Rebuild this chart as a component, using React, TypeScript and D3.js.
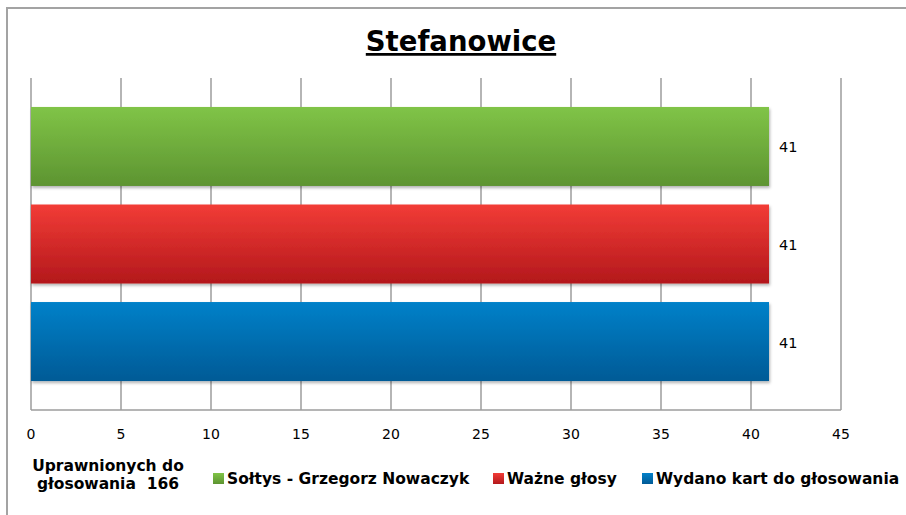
import * as React from "react";
import * as d3 from "d3";

const title = "Stefanowice";
const series = ["Wydano kart do głosowania", "Ważne głosy", "Sołtys - Grzegorz Nowaczyk"];
const values = [41, 41, 41];
const colorsTop = ["#0381c9", "#f23c36", "#80c447"];
const colorsBottom = ["#015a96", "#b3181c", "#5d9431"];
const legendOrder = [2, 1, 0];
const xTicks = [0, 5, 10, 15, 20, 25, 30, 35, 40, 45];
const noteLines = ["Uprawnionych do", "głosowania  166"];

const W = 906;
const H = 515;
const FONT = "DejaVu Sans, Verdana, sans-serif";

const App = () => {
  const ref = React.useRef<SVGSVGElement>(null);

  React.useEffect(() => {
    document.body.style.margin = "0";
    const svg = d3.select(ref.current);
    svg.selectAll("*").remove();

    const x = d3.scaleLinear().domain([0, 45]).range([31, 841]);
    // one category, three series stacked top to bottom (last series on top)
    const y = d3
      .scaleBand<number>()
      .domain([2, 1, 0])
      .range([78, 410])
      .paddingInner(0.19)
      .paddingOuter(0.297);

    const defs = svg.append("defs");
    series.forEach((_, i) => {
      const g = defs
        .append("linearGradient")
        .attr("id", "grad" + i)
        .attr("x1", 0)
        .attr("y1", 0)
        .attr("x2", 0)
        .attr("y2", 1);
      g.append("stop").attr("offset", "0%").attr("stop-color", colorsTop[i]);
      g.append("stop").attr("offset", "100%").attr("stop-color", colorsBottom[i]);
    });
    defs
      .append("filter")
      .attr("id", "shadow")
      .attr("x", "-5%")
      .attr("y", "-10%")
      .attr("width", "110%")
      .attr("height", "130%")
      .append("feDropShadow")
      .attr("dx", 1)
      .attr("dy", 2)
      .attr("stdDeviation", 1.5)
      .attr("flood-color", "#000")
      .attr("flood-opacity", 0.3);

    svg.append("rect").attr("width", W).attr("height", H).attr("fill", "#fff");

    // outer chart border
    svg
      .append("path")
      .attr("d", `M7,${H + 5}V8H${W + 5}`)
      .attr("fill", "none")
      .attr("stroke", "#a3a3a3")
      .attr("stroke-width", 2);

    svg
      .append("text")
      .attr("x", 461)
      .attr("y", 51)
      .attr("text-anchor", "middle")
      .attr("font-family", FONT)
      .attr("font-weight", "bold")
      .attr("font-size", 27.5)
      .attr("text-decoration", "underline")
      .attr("fill", "#000")
      .text(title);

    // gridlines
    svg
      .append("g")
      .selectAll("line")
      .data(xTicks)
      .join("line")
      .attr("x1", (d) => x(d))
      .attr("x2", (d) => x(d))
      .attr("y1", 78)
      .attr("y2", 410)
      .attr("stroke", "#9d9d9d")
      .attr("stroke-width", 1.5);

    svg
      .append("line")
      .attr("x1", x(0))
      .attr("x2", x(45))
      .attr("y1", 410)
      .attr("y2", 410)
      .attr("stroke", "#9d9d9d")
      .attr("stroke-width", 1.5);

    svg
      .append("g")
      .selectAll("rect")
      .data(values)
      .join("rect")
      .attr("x", x(0))
      .attr("y", (_, i) => y(i)!)
      .attr("width", (d) => x(d) - x(0))
      .attr("height", y.bandwidth())
      .attr("fill", (_, i) => `url(#grad${i})`)
      .attr("filter", "url(#shadow)");

    svg
      .append("g")
      .selectAll("text")
      .data(values)
      .join("text")
      .attr("x", (d) => x(d) + 10)
      .attr("y", (_, i) => y(i)! + y.bandwidth() / 2 + 6)
      .attr("font-family", FONT)
      .attr("font-size", 14.5)
      .attr("fill", "#000")
      .text((d) => d);

    svg
      .append("g")
      .selectAll("text")
      .data(xTicks)
      .join("text")
      .attr("x", (d) => x(d))
      .attr("y", 439)
      .attr("text-anchor", "middle")
      .attr("font-family", FONT)
      .attr("font-size", 14)
      .attr("fill", "#000")
      .text((d) => d);

    svg
      .append("g")
      .selectAll("text")
      .data(noteLines)
      .join("text")
      .attr("x", 108)
      .attr("y", (_, i) => 471 + i * 18)
      .attr("text-anchor", "middle")
      .attr("font-family", FONT)
      .attr("font-weight", "bold")
      .attr("font-size", 15.5)
      .attr("fill", "#000")
      .style("white-space", "pre")
      .text((d) => d);

    const legendX = [213, 493, 642];
    const lg = svg
      .append("g")
      .selectAll("g")
      .data(legendOrder)
      .join("g")
      .attr("transform", (_, k) => `translate(${legendX[k]},473)`);
    lg.append("rect")
      .attr("width", 11)
      .attr("height", 11)
      .attr("fill", (i) => `url(#grad${i})`);
    lg.append("text")
      .attr("x", 14)
      .attr("y", 11)
      .attr("font-family", FONT)
      .attr("font-weight", "bold")
      .attr("font-size", 15.5)
      .attr("fill", "#000")
      .text((i) => series[i]);
  }, []);

  return (
    <div id="chart">
      <svg ref={ref} width={W} height={H} style={{ display: "block" }}></svg>
    </div>
  );
};

export default App;
